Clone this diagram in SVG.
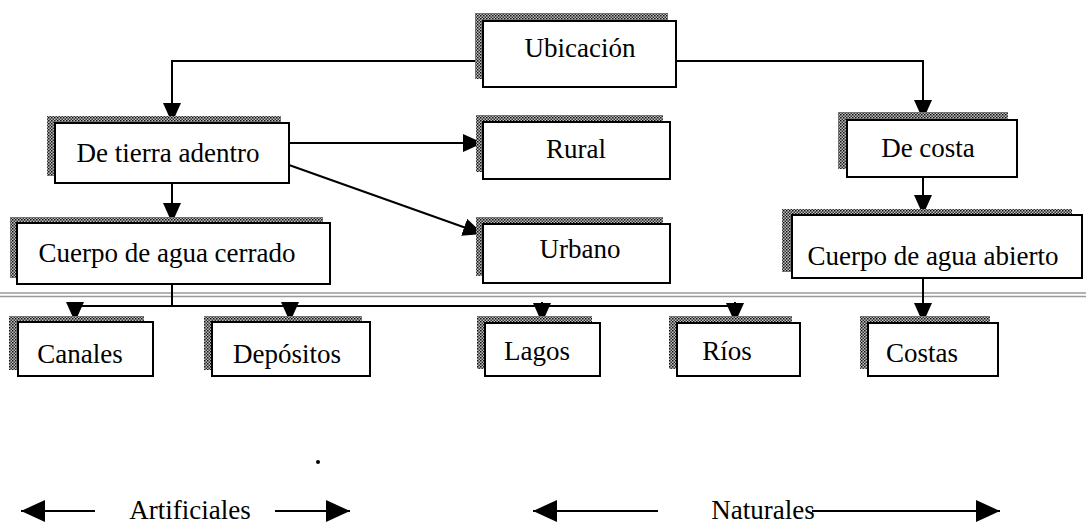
<svg xmlns="http://www.w3.org/2000/svg" width="1086" height="524" viewBox="0 0 1086 524">
<defs>
<pattern id="dots" patternUnits="userSpaceOnUse" width="3" height="3">
<rect width="3" height="3" fill="#bdbdbd"/>
<rect x="0" y="0" width="1.5" height="1.5" fill="#111"/>
<rect x="1.5" y="1.5" width="1.5" height="1.5" fill="#333"/>
</pattern>
<marker id="arr" markerUnits="userSpaceOnUse" markerWidth="20" markerHeight="18" viewBox="0 0 20 18" refX="20" refY="9" orient="auto">
<path d="M0,0 L20,9 L0,18 z" fill="#000"/>
</marker>
<marker id="big" markerUnits="userSpaceOnUse" markerWidth="24" markerHeight="22" viewBox="0 0 24 22" refX="24" refY="11" orient="auto">
<path d="M0,0 L24,11 L0,22 z" fill="#000"/>
</marker>
</defs>
<style>
.sh{fill:url(#dots)}
.bx{fill:#fff;stroke:#000;stroke-width:2}
.t{font-size:27px;fill:#000;text-anchor:middle}
.c{fill:none;stroke:#000;stroke-width:2}
.a{marker-end:url(#arr)}
.g{stroke:#9a9a9a;stroke-width:1.5;fill:none}
</style>
<rect width="1086" height="524" fill="#fff"/>

<g id="divider">
<line class="g" x1="0" y1="293" x2="1086" y2="293"/>
<line class="g" x1="0" y1="296.5" x2="1086" y2="296.5"/>
</g>

<g id="connectors">
<polyline class="c a" points="483,61 172,61 172,123"/>
<polyline class="c a" points="676,61 923,61 923,120"/>
<line class="c a" x1="289" y1="143" x2="483" y2="143"/>
<line class="c a" x1="289" y1="165" x2="483" y2="234"/>
<line class="c a" x1="172" y1="183" x2="172" y2="223"/>
<line class="c a" x1="923" y1="177" x2="923" y2="215"/>
<line class="c a" x1="923" y1="278" x2="923" y2="323"/>
<polyline class="c" points="172,284 172,306"/>
<line class="c" x1="75" y1="306" x2="735" y2="306"/>
<line class="c a" x1="75" y1="302" x2="75" y2="322"/>
<line class="c a" x1="290" y1="302" x2="290" y2="322"/>
<line class="c a" x1="542" y1="302" x2="542" y2="323"/>
<line class="c a" x1="735" y1="302" x2="735" y2="323"/>
</g>

<g font-family="'Liberation Serif', 'DejaVu Serif', 'Times New Roman', serif">
<g id="n-ubicacion">
<rect class="sh" x="475" y="13" width="193" height="66"/>
<rect class="bx" x="483" y="21" width="193" height="66"/>
<text class="t" x="580" y="57">Ubicación</text>
</g>
<g id="n-tierra">
<rect class="sh" x="47" y="116" width="234" height="60"/>
<rect class="bx" x="55" y="123" width="234" height="60"/>
<text class="t" x="168" y="162">De tierra adentro</text>
</g>
<g id="n-rural">
<rect class="sh" x="476" y="115" width="187" height="57"/>
<rect class="bx" x="483" y="122" width="187" height="57"/>
<text class="t" x="576" y="158">Rural</text>
</g>
<g id="n-urbano">
<rect class="sh" x="476" y="217" width="187" height="59"/>
<rect class="bx" x="483" y="224" width="187" height="59"/>
<text class="t" x="580" y="258">Urbano</text>
</g>
<g id="n-costa">
<rect class="sh" x="838" y="112" width="170" height="57"/>
<rect class="bx" x="847" y="120" width="170" height="57"/>
<text class="t" x="928" y="157">De costa</text>
</g>
<g id="n-cerrado">
<rect class="sh" x="10" y="217" width="313" height="61"/>
<rect class="bx" x="17" y="223" width="313" height="61"/>
<text class="t" x="167" y="262">Cuerpo de agua cerrado</text>
</g>
<g id="n-abierto">
<rect class="sh" x="782" y="209" width="290" height="63"/>
<rect class="bx" x="792" y="215" width="290" height="63"/>
<text class="t" x="933" y="265">Cuerpo de agua abierto</text>
</g>
<g id="n-canales">
<rect class="sh" x="9" y="316" width="135" height="54"/>
<rect class="bx" x="18" y="322" width="135" height="54"/>
<text class="t" x="80" y="363">Canales</text>
</g>
<g id="n-depositos">
<rect class="sh" x="204" y="316" width="158" height="54"/>
<rect class="bx" x="212" y="322" width="158" height="54"/>
<text class="t" x="287" y="363">Depósitos</text>
</g>
<g id="n-lagos">
<rect class="sh" x="477" y="316" width="115" height="53"/>
<rect class="bx" x="485" y="323" width="115" height="53"/>
<text class="t" x="537" y="360">Lagos</text>
</g>
<g id="n-rios">
<rect class="sh" x="669" y="316" width="123" height="53"/>
<rect class="bx" x="677" y="323" width="123" height="53"/>
<text class="t" x="727" y="360">Ríos</text>
</g>
<g id="n-costas">
<rect class="sh" x="860" y="316" width="130" height="53"/>
<rect class="bx" x="868" y="323" width="130" height="53"/>
<text class="t" x="922" y="362">Costas</text>
</g>

<circle cx="318" cy="462" r="2" fill="#000"/>

<g id="legend">
<line class="c" x1="95" y1="511" x2="21" y2="511" style="marker-end:url(#big)"/>
<text class="t" x="190" y="519">Artificiales</text>
<line class="c" x1="275" y1="511" x2="350" y2="511" style="marker-end:url(#big)"/>
<line class="c" x1="658" y1="511" x2="533" y2="511" style="marker-end:url(#big)"/>
<text class="t" x="763" y="519">Naturales</text>
<line class="c" x1="812" y1="511" x2="1000" y2="511" style="marker-end:url(#big)"/>
</g>
</g>
</svg>
